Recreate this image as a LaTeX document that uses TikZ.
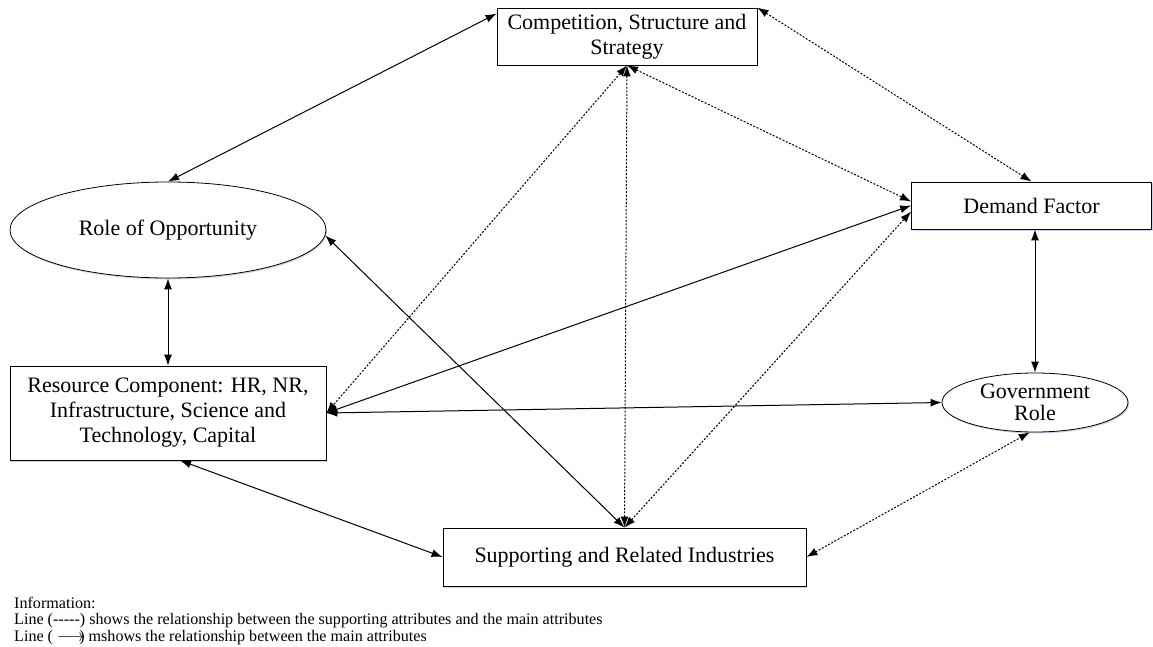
\documentclass[tikz,border=0pt]{standalone}
\usepackage{fontspec}
\setmainfont{Liberation Serif}
\usetikzlibrary{arrows.meta,shapes.geometric,shadows}

\begin{document}
\begin{tikzpicture}[
        x=1pt, y=-1pt,
        every node/.style={font=\fontsize{22}{25}\selectfont, align=center},
        factorBox/.style={draw, rectangle, inner sep=0pt, line width=0.8pt, fill=white,
            drop shadow={shadow xshift=1pt, shadow yshift=-1.5pt, fill=blue!40!gray, opacity=0.25}},
        factorOval/.style={factorBox, ellipse},
        mainLink/.style={{Latex[length=11pt,width=8pt]}-{Latex[length=11pt,width=8pt]}, line width=1pt},
        supportLink/.style={mainLink, dash pattern=on 2pt off 1.6pt},
        legendText/.style={anchor=north west, align=left, inner sep=0pt,
            font=\fontsize{16.1}{16.3}\selectfont}
    ]
        \useasboundingbox (0,0) rectangle (1153,647);

        % the factors
        \node[factorBox, minimum width=260pt, minimum height=57pt] (comp) at (627,36.5)
            {Competition, Structure and\\Strategy};
        \node[factorOval, minimum width=316pt, minimum height=96pt] (opp) at (168,230)
            {Role of Opportunity};
        \node[factorBox, minimum width=316pt, minimum height=94pt] (res) at (168,413)
            {Resource Component: HR, NR,\\Infrastructure, Science and\\Technology, Capital};
        \node[factorBox, minimum width=240pt, minimum height=47pt] (dem) at (1031.5,205.5)
            {Demand Factor};
        \node[factorOval, minimum width=186pt, minimum height=59pt,
            font=\fontsize{22}{22}\selectfont] (gov) at (1035,402.5)
            {Government\\Role};
        \node[factorBox, minimum width=363pt, minimum height=58pt] (sup) at (624.5,557)
            {Supporting and Related Industries};

        % main attributes
        \draw[mainLink] (opp.north) -- ([yshift=-6pt]comp.north west);
        \draw[mainLink] (opp.south) -- (res.north);
        \draw[mainLink] (opp.-2) -- (sup.north);
        \draw[mainLink] (res.east) -- (dem.west);
        \draw[mainLink] (res.east) -- (gov.west);
        \draw[mainLink] ([xshift=12pt]res.south) -- (sup.west);
        \draw[mainLink] (gov.north |- dem.south) -- (gov.north);

        % supporting attributes
        \draw[supportLink] (comp.north east) -- (dem.north);
        \draw[supportLink] (comp.south) -- (res.east);
        \draw[supportLink] (comp.south) -- (sup.north);
        \draw[supportLink] (comp.south) -- ([yshift=4pt]dem.west);
        \draw[supportLink] (sup.north) -- ([yshift=-6pt]dem.west);
        \draw[supportLink] (sup.east) -- (gov.-100);

        % legend
        \node[legendText] (info) at (14,597)
            {Information:\\
             Line (-{}-{}-{}-{}-) shows the relationship between the supporting attributes and the main attributes\\
             Line (~$\longrightarrow$\kern-0.35em)~mshows the relationship between the main attributes};

    \end{tikzpicture}
\end{document}
